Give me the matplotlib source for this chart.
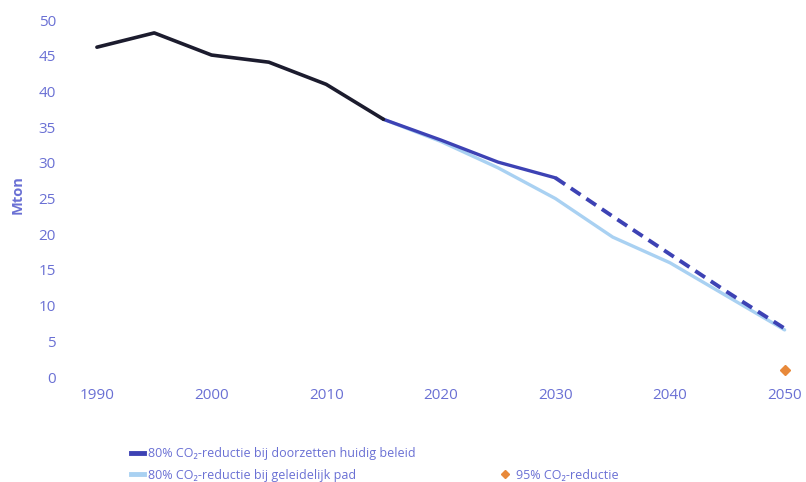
import matplotlib
matplotlib.use("Agg")
import matplotlib.pyplot as plt
from matplotlib.lines import Line2D

plt.rcParams['font.family'] = ['Open Sans', 'DejaVu Sans']

# Data
hist_years = [1990, 1995, 2000, 2005, 2010, 2015]
hist_vals = [46.2, 48.2, 45.1, 44.1, 41.0, 36.1]

policy_years = [2015, 2020, 2025, 2030]
policy_vals = [36.1, 33.2, 30.1, 27.9]

policy_ext_years = [2030, 2035, 2040, 2045, 2050]
policy_ext_vals = [27.9, 22.5, 17.2, 11.9, 6.8]

grad_years = [2015, 2020, 2025, 2030, 2035, 2040, 2045, 2050]
grad_vals = [36.1, 33.0, 29.3, 25.0, 19.6, 16.0, 11.3, 6.6]

red95_years = [2050]
red95_vals = [1.0]

xticks = [1990, 2000, 2010, 2020, 2030, 2040, 2050]
yticks = [0, 5, 10, 15, 20, 25, 30, 35, 40, 45, 50]

labels = ["80% CO\u2082-reductie bij doorzetten huidig beleid",
          "80% CO\u2082-reductie bij geleidelijk pad",
          "95% CO\u2082-reductie"]

c_black = '#1c1c2e'
c_dark = '#3d42b4'
c_light = '#a9d1f2'
c_orange = '#e8893a'
c_text = '#6a70d4'

fig = plt.figure(figsize=(8.06, 4.82), dpi=100)
ax = fig.add_axes([0.0918, 0.203, 0.903, 0.785])

ax.plot(grad_years, grad_vals, color=c_light, lw=2.4, solid_capstyle='round', zorder=2)
ax.plot(policy_ext_years, policy_ext_vals, color=c_dark, lw=2.8, ls=(0, (3.0, 1.8)), zorder=3)
ax.plot(policy_years, policy_vals, color=c_dark, lw=2.4, solid_capstyle='round', zorder=3)
ax.plot(hist_years, hist_vals, color=c_black, lw=2.6, solid_capstyle='round', zorder=4)
ax.plot(red95_years, red95_vals, marker='D', ls='none', color=c_orange, ms=5, zorder=5)

ax.set_xlim(1988, 2051.5)
ax.set_ylim(-1, 52)
ax.set_xticks(xticks)
ax.set_yticks(yticks)
for s in ax.spines.values():
    s.set_visible(False)
ax.tick_params(axis='both', length=0, colors=c_text, labelsize=11)
ax.tick_params(axis='y', pad=13)
ax.tick_params(axis='x', pad=3)
ax.set_ylabel('Mton', color=c_text, fontsize=10.5, fontweight='bold', labelpad=10)

handles = [Line2D([], [], color=c_dark, lw=3.5),
           Line2D([], [], color=c_light, lw=3.5),
           Line2D([], [], color='none'),
           Line2D([], [], color=c_orange, marker='D', ls='none', ms=4)]
leg_labels = [labels[0], labels[1], '', labels[2]]
leg = fig.legend(handles, leg_labels, ncol=2, loc='upper left',
                 bbox_to_anchor=(0.162, 0.072), frameon=False, fontsize=9,
                 handlelength=1.1, handletextpad=0.3, columnspacing=6.6,
                 labelspacing=0.68, borderaxespad=0, borderpad=0)
for t in leg.get_texts():
    t.set_color(c_text)

fig.savefig('out.png', dpi=100)
